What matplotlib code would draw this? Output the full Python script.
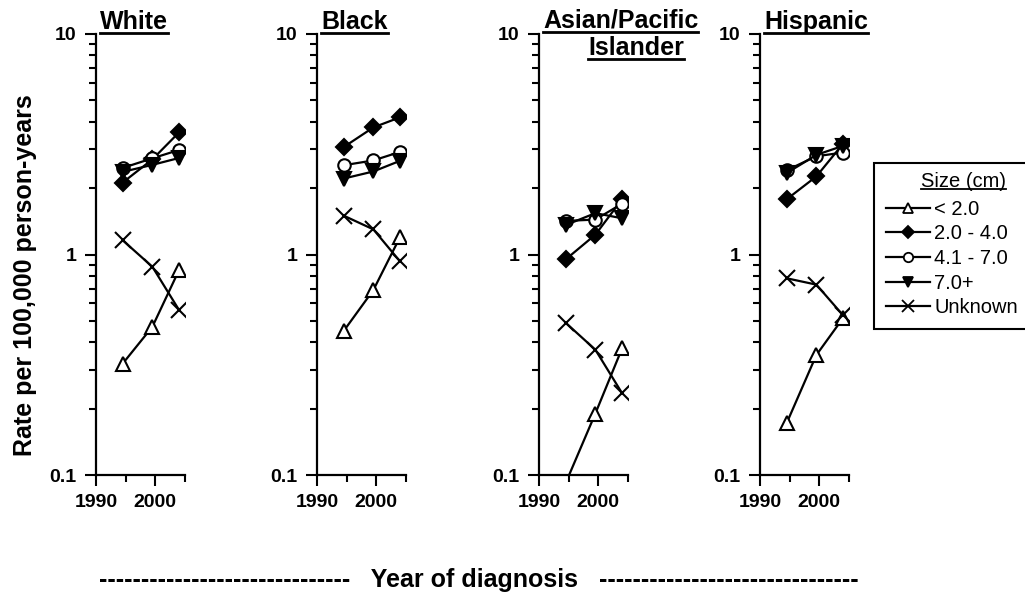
import matplotlib
matplotlib.use("Agg")
import matplotlib.pyplot as plt
from matplotlib.lines import Line2D
from matplotlib.ticker import FixedLocator, FixedFormatter, LogLocator, NullFormatter

plt.rcParams['font.family'] = ['Liberation Sans', 'DejaVu Sans']

# data
years = [1994.5, 1999.5, 2004]
groups = ['White', 'Black', 'Asian/Pacific', 'Hispanic']
size_labels = ['< 2.0', '2.0 - 4.0', '4.1 - 7.0', '7.0+', 'Unknown']

lt2 = {'White': [0.32, 0.47, 0.85], 'Black': [0.45, 0.69, 1.20],
       'Asian/Pacific': [0.092, 0.19, 0.375], 'Hispanic': [0.172, 0.35, 0.515]}
s2to4 = {'White': [2.12, 2.70, 3.58], 'Black': [3.07, 3.77, 4.19],
         'Asian/Pacific': [0.95, 1.23, 1.78], 'Hispanic': [1.78, 2.26, 3.18]}
s4to7 = {'White': [2.47, 2.73, 2.98], 'Black': [2.54, 2.67, 2.92],
         'Asian/Pacific': [1.42, 1.44, 1.70], 'Hispanic': [2.41, 2.79, 2.90]}
s7plus = {'White': [2.37, 2.55, 2.74], 'Black': [2.21, 2.38, 2.66],
          'Asian/Pacific': [1.36, 1.54, 1.46], 'Hispanic': [2.34, 2.83, 3.11]}
unknown = {'White': [1.16, 0.88, 0.56], 'Black': [1.50, 1.30, 0.93],
           'Asian/Pacific': [0.49, 0.37, 0.235], 'Hispanic': [0.78, 0.73, 0.53]}

series = [lt2, s2to4, s4to7, s7plus, unknown]
styles = [
    dict(marker='^', mfc='white', mec='black', ms=10),
    dict(marker='D', mfc='black', mec='black', ms=8),
    dict(marker='o', mfc='white', mec='black', ms=9),
    dict(marker='v', mfc='black', mec='black', ms=10),
    dict(marker='x', mfc='black', mec='black', ms=11),
]

W, H = 1025, 602
fig = plt.figure(figsize=(W / 100, H / 100), dpi=100)

spines_px = [96, 317, 539, 760]
ax_w, top_px, bot_px = 89, 34, 475

axes = []
for g, left in zip(groups, spines_px):
    ax = fig.add_axes([left / W, 1 - bot_px / H, ax_w / W, (bot_px - top_px) / H])
    for vals, st in zip(series, styles):
        ax.plot(years, vals[g], color='black', lw=1.6, mew=1.5, **st)
    ax.set_yscale('log')
    ax.set_ylim(0.1, 10)
    ax.set_xlim(1990, 2005)
    ax.spines['top'].set_visible(False)
    ax.spines['right'].set_visible(False)
    ax.spines['left'].set_linewidth(1.6)
    ax.spines['bottom'].set_linewidth(1.6)
    ax.yaxis.set_major_locator(FixedLocator([0.1, 1, 10]))
    ax.yaxis.set_major_formatter(FixedFormatter(['0.1', '1', '10']))
    ax.yaxis.set_minor_locator(LogLocator(base=10, subs=range(2, 10)))
    ax.yaxis.set_minor_formatter(NullFormatter())
    ax.xaxis.set_major_locator(FixedLocator([1990, 2000]))
    ax.xaxis.set_minor_locator(FixedLocator([1995, 2005]))
    ax.tick_params(which='major', direction='out', length=8, width=1.5, labelsize=14, pad=6)
    ax.tick_params(which='minor', direction='out', length=5, width=1.5)
    for lab in ax.get_xticklabels() + ax.get_yticklabels():
        lab.set_fontweight('bold')
    axes.append(ax)

title_kw = dict(fontsize=18, fontweight='bold', va='baseline', transform=fig.transFigure)
titles = [
    fig.text((96 + 4) / W, 1 - 29 / H, 'White', ha='left', **title_kw),
    fig.text((317 + 4) / W, 1 - 29 / H, 'Black', ha='left', **title_kw),
    fig.text((539 + 4) / W, 1 - 28 / H, 'Asian/Pacific', ha='left', **title_kw),
    fig.text(636 / W, 1 - 55 / H, 'Islander', ha='center', **title_kw),
    fig.text((760 + 4) / W, 1 - 29 / H, 'Hispanic', ha='left', **title_kw),
]

fig.text(25 / W, 1 - 275 / H, 'Rate per 100,000 person-years', rotation=90,
         ha='center', va='center', fontsize=18, fontweight='bold')
fig.text(479 / W, 1 - 580 / H, '-' * 30 + '   Year of diagnosis   ' + '-' * 31,
         ha='center', va='center', fontsize=18, fontweight='bold')

handles = [Line2D([], [], color='black', lw=1.6, mew=1.3,
                  **{**st, 'ms': st['ms'] * 0.75}) for st in styles]
# blank title keeps a row free; the real title is drawn by hand below
leg = fig.legend(handles, size_labels, title=' ', loc='upper left',
                 bbox_to_anchor=(874 / W, 1 - 163 / H), fontsize=14.5,
                 title_fontsize=14.5, fancybox=False, framealpha=1,
                 edgecolor='black', handlelength=2.2, handletextpad=0.2,
                 labelspacing=0.28, borderpad=0.6, borderaxespad=0)
leg.get_frame().set_linewidth(1.5)

fig.canvas.draw()
renderer = fig.canvas.get_renderer()
inv = fig.transFigure.inverted()

tb = leg.get_title().get_window_extent(renderer)
leg_title = fig.text(1006 / W, inv.transform([[0, tb.y0]])[0][1] + 3 / H, 'Size (cm)',
                     ha='right', va='bottom', fontsize=14.5, zorder=10)
fig.canvas.draw()

# underline titles
for t in titles + [leg_title]:
    bb = t.get_window_extent(renderer)
    (x0, y0), (x1, y1) = inv.transform([[bb.x0, bb.y0], [bb.x1, bb.y1]])
    lw = 1.3 if t is leg_title else 2
    off = 2 / H if t is leg_title else 1 / H
    fig.add_artist(Line2D([x0, x1], [y0 + off, y0 + off], color='black', lw=lw,
                          transform=fig.transFigure, zorder=10))

fig.savefig('out.png', dpi=100)
